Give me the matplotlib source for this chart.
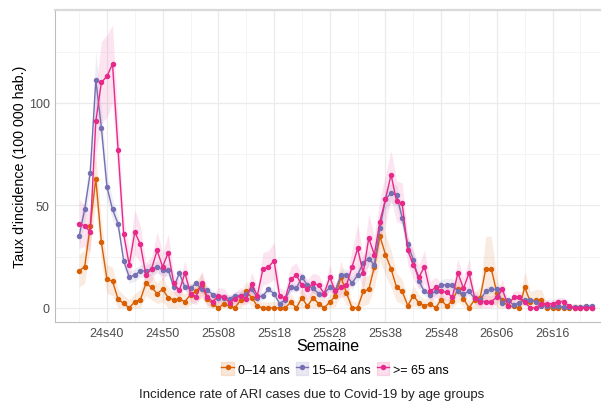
import numpy as np
import matplotlib.pyplot as plt
from matplotlib.patches import Patch
from matplotlib.lines import Line2D

plt.rcParams['font.family'] = ['Liberation Sans', 'DejaVu Sans']

# --- Week labels (24s35 .. 26s23) ---
weeks = [f"24s{w:02d}" for w in range(35, 53)] + \
        [f"25s{w:02d}" for w in range(1, 53)] + \
        [f"26s{w:02d}" for w in range(1, 24)]
tick_weeks = ["24s40", "24s50", "25s08", "25s18", "25s28",
              "25s38", "25s48", "26s06", "26s16"]

# --- Incidence per 100 000 inhabitants ---
age_0_14 = [18.2, 20, 40, 63, 32, 14, 13, 4.2, 2.2, 0,
            3, 4, 12, 10, 7, 9, 5, 3.9, 4.4, 3,
            6.5, 8, 11, 4.4, 2, 0, 2, 0.8, 0, 4,
            8, 5, 0.8, 0, 0, 0, 0, 0, 2.8, 0,
            5, 0.8, 5, 2, 0, 2.8, 5.7, 15, 7.3, 0,
            0, 8, 9, 20, 35, 26, 19, 10, 8, 1.1,
            6, 2.4, 1, 2, 0, 4, 0.8, 3.5, 9, 4.5,
            0, 4, 5, 19, 19, 7.3, 3.6, 0.8, 0.8, 0,
            10, 3, 4, 4, 0, 0, 0, 0, 0, 0,
            0, 0, 0]
age_15_64 = [35, 48, 66, 111, 88, 59, 48, 41, 23, 15,
             16, 18, 18, 19, 20, 18.5, 18.5, 10, 17, 10,
             9.5, 12, 9, 8.8, 6.5, 5, 5, 4.5, 6, 6,
             7, 9, 5, 6, 9, 7, 2, 4, 10, 9.5,
             15, 11, 9.5, 7, 7, 10, 8.5, 16, 16, 12,
             16, 22, 24, 21, 39, 53, 56, 55, 44, 31,
             23.5, 13, 8, 6.5, 8, 11, 11.4, 11.4, 8, 6.8,
             8, 4.6, 4, 8, 9, 9, 2.4, 4, 1.3, 2.4,
             3.6, 4, 2.8, 1.1, 0.8, 0.8, 0.8, 0.3, 0.3, 0.3,
             0.3, 0.8, 0.8]
age_65 = [41, 40, 37, 91, 110, 113, 119, 77, 36, 21,
          37, 31, 16, 19, 28, 20, 27, 12, 8.5, 17,
          7, 5.5, 12, 5.5, 3, 6, 5.5, 2.5, 4.5, 6,
          4.5, 11.5, 6, 19, 20, 23, 5.7, 4.7, 14, 16,
          11, 9, 12, 11, 7, 15, 8, 10, 11, 20,
          29, 17, 34, 26, 42, 53, 65, 52, 51, 28,
          21, 15, 20, 8, 10, 8, 7.7, 5.2, 17, 9.5,
          17, 5, 3.1, 3.1, 3.1, 5.2, 9, 1.1, 5.2, 5.2,
          2.8, 0, 0, 2, 2, 2, 3.1, 3.1, 0.7, 0,
          0, 0, 0]

# --- Half-width of the confidence band ---
hw_0_14 = [8, 8, 10, 12, 10, 7, 7, 5, 4, 4, 4, 5, 6, 6, 5, 6,
           5, 4, 4, 4, 5, 5, 6, 4, 4, 3, 4, 3, 3, 4, 5, 4,
           3, 3, 3, 3, 3, 3, 4, 3, 5, 3, 5, 4, 3, 4, 5, 8,
           6, 3, 3, 7, 7, 10, 12, 10, 9, 7, 6, 3, 5, 4, 3, 4,
           3, 4, 3, 4, 6, 4, 3, 4, 5, 16, 16, 7, 4, 3, 3, 3,
           8, 5, 5, 5, 2, 2, 2, 2, 2, 2, 2, 2, 2]
hw_15_64 = [5, 6, 7, 14, 9, 6, 5, 4, 3, 3, 3, 3, 3, 3, 3, 3,
            3, 2, 3, 2, 2, 2, 2, 2, 2, 2, 2, 2, 2, 2, 2, 2,
            2, 2, 2, 2, 2, 2, 2, 2, 3, 2, 2, 2, 2, 2, 2, 3,
            3, 3, 3, 4, 4, 4, 5, 5, 5, 5, 5, 4, 4, 3, 2, 2,
            2, 3, 3, 3, 2, 2, 2, 2, 2, 2, 2, 2, 2, 1, 1, 1,
            1, 1, 1, 1, 1, 1, 1, 1, 1, 1, 1, 1, 1]
hw_65 = [12, 10, 10, 16, 20, 20, 19, 14, 9, 7, 11, 9, 6, 6, 9, 7,
         9, 5, 4, 6, 4, 4, 6, 4, 3, 4, 4, 3, 3, 4, 3, 6,
         4, 8, 8, 9, 4, 4, 6, 6, 5, 5, 5, 5, 4, 6, 4, 5,
         5, 8, 12, 8, 12, 9, 11, 12, 12, 10, 10, 7, 7, 6, 8, 5,
         5, 4, 4, 4, 7, 5, 7, 3, 3, 3, 3, 3, 5, 2, 3, 3,
         2, 1, 1, 2, 2, 2, 2, 2, 1, 1, 1, 1, 1]

labels = ["0\u201314 ans", "15\u201364 ans", ">= 65 ans"]
colors = ["#D95F02", "#7570B3", "#E7298A"]
series = [age_0_14, age_15_64, age_65]
bands = [hw_0_14, hw_15_64, hw_65]

x = np.arange(len(weeks))
tick_pos = [weeks.index(w) for w in tick_weeks]

fig = plt.figure(figsize=(6.06, 4.02), dpi=100)
ax = fig.add_axes([0.091, 0.197, 0.899, 0.776])

for vals, hw, col in zip(series, bands, colors):
    v = np.array(vals, dtype=float)
    h = np.array(hw, dtype=float)
    ax.fill_between(x, np.clip(v - h, 0, None), v + h, color=col, alpha=0.12, lw=0)
for vals, col in zip(series, colors):
    ax.plot(x, vals, color=col, lw=1.0, marker="o", ms=2.9, zorder=3)

ax.set_xlim(-4.3, 93.5)
ax.set_ylim(-6.8, 145.4)
ax.set_xticks(tick_pos)
ax.set_xticklabels(tick_weeks)
ax.set_xticks([p - 5 for p in tick_pos] + [tick_pos[-1] + 5], minor=True)
ax.set_yticks([0, 50, 100])
ax.set_yticks([25, 75, 125], minor=True)
ax.grid(which="major", color="#EBEBEB", lw=0.9)
ax.grid(which="minor", color="#F3F3F3", lw=0.6)
ax.set_axisbelow(True)
ax.tick_params(which="both", length=0, labelsize=9, labelcolor="#4D4D4D", pad=4)

for s in ["left", "bottom"]:
    ax.spines[s].set_color("#BDBDBD")
    ax.spines[s].set_linewidth(0.8)
ax.spines["top"].set_color("#D9D9D9")
ax.spines["top"].set_linewidth(1.6)
ax.spines["right"].set_visible(False)

ax.set_xlabel("Semaine", fontsize=11.5, labelpad=-1)
ax.set_ylabel("Taux d'incidence (100 000 hab.)", fontsize=10.3, labelpad=1)

handles = [(Patch(facecolor=c, alpha=0.15, edgecolor=c, lw=1.0),
            Line2D([], [], color=c, lw=1.0, marker="o", ms=2.9)) for c in colors]
fig.legend(handles, labels, loc="center", bbox_to_anchor=(0.553, 0.08), ncol=3,
           frameon=False, fontsize=9, handlelength=1.0, handleheight=1.2,
           handletextpad=0.3, columnspacing=0.5)

fig.text(0.515, 0.017, "Incidence rate of ARI cases due to Covid-19 by age groups",
         ha="center", va="center", fontsize=9.5, color="#222222")

fig.savefig("out.png", dpi=100)
